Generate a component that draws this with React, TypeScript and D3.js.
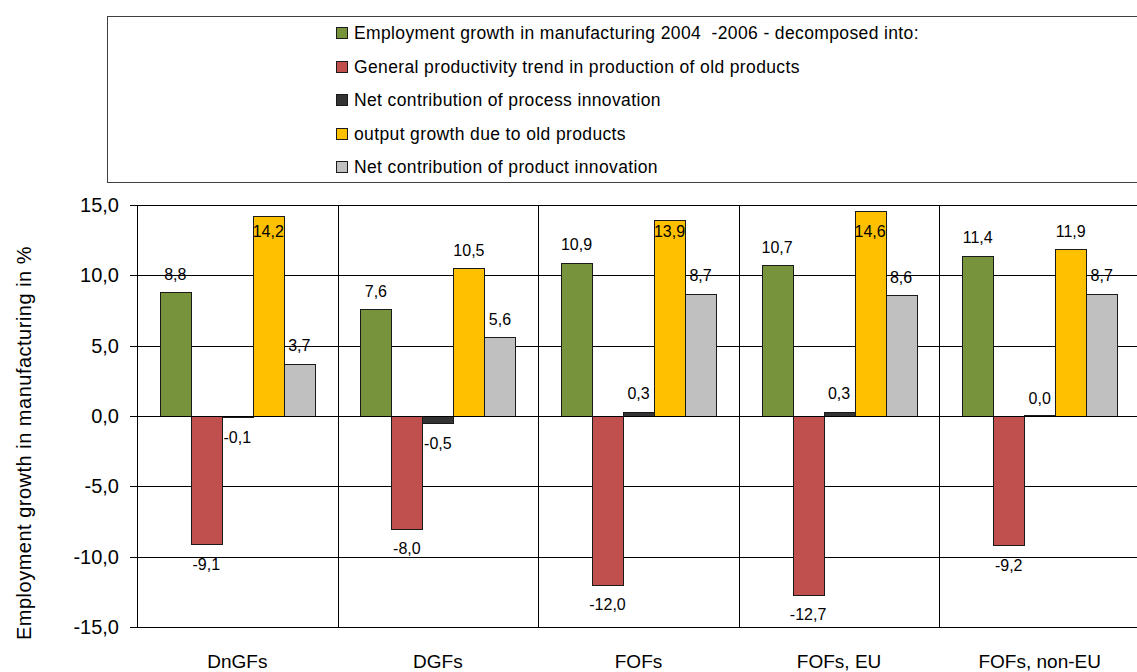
import React from "react";
import * as d3 from "d3";

const categories = ["DnGFs", "DGFs", "FOFs", "FOFs, EU", "FOFs, non-EU"];
const seriesNames = [
  "Employment growth in manufacturing 2004  -2006 - decomposed into:",
  "General productivity trend in production of old products",
  "Net contribution of process innovation",
  "output growth due to old products",
  "Net contribution of product innovation",
];
const employment = [8.8, 7.6, 10.9, 10.7, 11.4];
const productivity = [-9.1, -8.0, -12.0, -12.7, -9.2];
const processInno = [-0.1, -0.5, 0.3, 0.3, 0.0];
const outputOld = [14.2, 10.5, 13.9, 14.6, 11.9];
const productInno = [3.7, 5.6, 8.7, 8.6, 8.7];
const yTicks = [-15, -10, -5, 0, 5, 10, 15];
const colors = ["#77933C", "#C0504D", "#333333", "#FFC000", "#C0C0C0"];

const allSeries = [employment, productivity, processInno, outputOld, productInno];

const fmt = (v: number) => v.toFixed(1).replace(".", ",");

export default function App() {
  const W = 1137;
  const H = 672;
  const left = 137;
  const right = 1140;
  const top = 205;
  const bottom = 627;
  const font = "'Liberation Sans', Arial, sans-serif";

  const y = d3.scaleLinear().domain([-15, 15]).range([bottom, top]);
  const x0 = d3.scaleBand<string>().domain(categories).range([left, right]).padding(0);
  const x1 = d3
    .scaleBand<number>()
    .domain(d3.range(5))
    .range([0, x0.bandwidth()])
    .paddingInner(0)
    .paddingOuter(0.735);

  const px = (v: number) => Math.round(v) + 0.5;

  const bars: React.ReactNode[] = [];
  const labels: React.ReactNode[] = [];
  categories.forEach((c, ci) => {
    allSeries.forEach((s, si) => {
      const v = s[ci];
      const bx = (x0(c) as number) + (x1(si) as number);
      const bw = x1.bandwidth();
      const y0 = y(0);
      const yv = y(v);
      const rh = Math.max(Math.round(Math.abs(yv - y0)), 1);
      const ry = v >= 0 ? Math.round(y0) - rh : Math.round(y0);
      bars.push(
        <rect
          key={`b${ci}-${si}`}
          x={Math.round(bx) + 0.5}
          y={ry + 0.5}
          width={Math.round(bw)}
          height={rh}
          fill={colors[si]}
          stroke="#1a1a1a"
          strokeWidth={1}
        />
      );
      const cx = bx + bw / 2;
      let ly: number;
      if (v >= 0) {
        ly = yv - 18;
        ly = Math.max(ly, 231);
      } else {
        ly = yv + 20;
      }
      labels.push(
        <text
          key={`l${ci}-${si}`}
          x={cx}
          y={ly}
          textAnchor="middle"
          dominantBaseline="central"
          fontSize={16}
          fontFamily={font}
          fill="#000"
        >
          {fmt(v)}
        </text>
      );
    });
  });

  const boundaries = categories.map((c) => x0(c) as number).slice(1);

  return (
    <div style={{ position: "absolute", left: 0, top: 0 }}>
      <svg width={W} height={H} style={{ display: "block", background: "#fff" }}>
        {/* legend */}
        <rect x={107.5} y={16.5} width={1040} height={166} fill="#fff" stroke="#404040" strokeWidth={1} />
        {seriesNames.map((n, i) => {
          const cy = 33 + i * 33.5;
          return (
            <g key={`lg${i}`}>
              <rect x={336.5} y={Math.round(cy - 6) + 0.5} width={11} height={11} fill={colors[i]} stroke="#1a1a1a" />
              <text
                x={354}
                y={cy}
                dominantBaseline="central"
                fontSize={17.5}
                letterSpacing={0.37}
                fontFamily={font}
                fill="#000"
                style={{ whiteSpace: "pre" }}
              >
                {n}
              </text>
            </g>
          );
        })}

        {/* horizontal gridlines */}
        {yTicks.map((t) => (
          <line key={`g${t}`} x1={left - 7} x2={right} y1={px(y(t))} y2={px(y(t))} stroke="#000" strokeWidth={1} />
        ))}
        {/* vertical gridlines */}
        {boundaries.map((b, i) => (
          <line key={`v${i}`} x1={px(b)} x2={px(b)} y1={px(top)} y2={px(bottom)} stroke="#000" strokeWidth={1} />
        ))}
        {/* y axis */}
        <line x1={px(left)} x2={px(left)} y1={px(top)} y2={px(bottom)} stroke="#000" strokeWidth={1} />

        {bars}

        {/* x axis line and ticks */}
        <line x1={left} x2={right} y1={px(y(0))} y2={px(y(0))} stroke="#000" strokeWidth={1} />
        {boundaries.map((b, i) => (
          <line key={`xt${i}`} x1={px(b)} x2={px(b)} y1={px(y(0))} y2={px(y(0)) + 6} stroke="#000" strokeWidth={1} />
        ))}

        {labels}

        {/* y tick labels */}
        {yTicks.map((t) => (
          <text
            key={`yt${t}`}
            x={119}
            y={y(t)}
            textAnchor="end"
            dominantBaseline="central"
            fontSize={20}
            fontFamily={font}
            fill="#000"
          >
            {fmt(t)}
          </text>
        ))}

        {/* category labels */}
        {categories.map((c) => (
          <text
            key={`c${c}`}
            x={(x0(c) as number) + x0.bandwidth() / 2}
            y={661}
            textAnchor="middle"
            dominantBaseline="central"
            fontSize={19}
            fontFamily={font}
            fill="#000"
          >
            {c}
          </text>
        ))}

        {/* y axis title */}
        <text
          transform={`translate(24, 443) rotate(-90)`}
          textAnchor="middle"
          dominantBaseline="central"
          fontSize={20}
          letterSpacing={0.5}
          fontFamily={font}
          fill="#000"
        >
          Employment growth in manufacturing in %
        </text>
      </svg>
    </div>
  );
}
